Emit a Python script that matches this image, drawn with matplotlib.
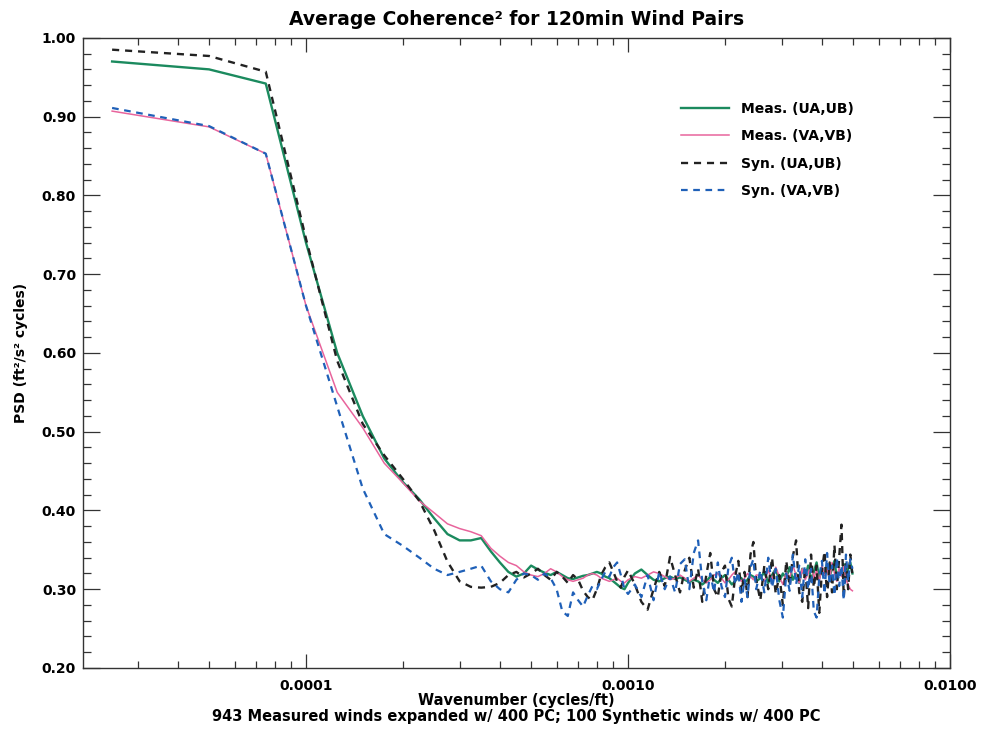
import matplotlib
matplotlib.use('Agg')
import matplotlib.pyplot as plt
from matplotlib.ticker import LogLocator, MultipleLocator, FuncFormatter, NullFormatter

plt.rcParams['font.family'] = 'DejaVu Sans'
plt.rcParams['font.weight'] = 'bold'

# harmonic number of each spectral estimate, fundamental 2.5e-5 cycles/ft
harmonic = list(range(1, 41)) + list(range(42, 101, 2)) + list(range(103, 200, 3))
wavenumber = [2.5e-5 * k for k in harmonic]

# Meas. (UA,UB)
meas_u = ([0.970, 0.960, 0.942, 0.740, 0.600, 0.520, 0.466, 0.436, 0.414, 0.390,
           0.370, 0.362, 0.362, 0.365, 0.348, 0.334, 0.322, 0.316, 0.320]
          + [0.330, 0.325, 0.321, 0.318, 0.322, 0.318, 0.314, 0.313, 0.315, 0.317,
             0.318, 0.320, 0.322, 0.320, 0.316, 0.314, 0.310, 0.306, 0.302, 0.300, 0.308]
          + [0.320, 0.325, 0.318, 0.312, 0.310, 0.314, 0.316, 0.313, 0.315, 0.312,
             0.309, 0.312, 0.310, 0.306, 0.310, 0.316, 0.312, 0.308, 0.314, 0.318,
             0.312, 0.306, 0.310, 0.316, 0.314, 0.308, 0.312, 0.318, 0.316, 0.310]
          + [0.314, 0.322, 0.308, 0.318, 0.326, 0.310, 0.320, 0.314, 0.328, 0.312,
             0.320, 0.308, 0.326, 0.316, 0.330, 0.312, 0.322, 0.334, 0.314, 0.326,
             0.318, 0.332, 0.316, 0.326, 0.336, 0.314, 0.324, 0.318, 0.332, 0.312,
             0.326, 0.334, 0.320])

# Meas. (VA,VB)
meas_v = ([0.907, 0.887, 0.853, 0.660, 0.550, 0.505, 0.460, 0.435, 0.412, 0.397,
           0.383, 0.377, 0.373, 0.368, 0.352, 0.342, 0.334, 0.330, 0.322]
          + [0.318, 0.316, 0.320, 0.326, 0.322, 0.316, 0.312, 0.310, 0.312, 0.314,
             0.318, 0.320, 0.318, 0.314, 0.312, 0.310, 0.312, 0.314, 0.310, 0.308, 0.312]
          + [0.316, 0.314, 0.318, 0.322, 0.320, 0.316, 0.312, 0.314, 0.318, 0.314,
             0.310, 0.314, 0.318, 0.312, 0.308, 0.312, 0.318, 0.320, 0.314, 0.308,
             0.312, 0.318, 0.322, 0.316, 0.310, 0.314, 0.320, 0.316, 0.312, 0.318]
          + [0.318, 0.310, 0.324, 0.312, 0.328, 0.316, 0.306, 0.322, 0.314, 0.330,
             0.318, 0.308, 0.326, 0.312, 0.320, 0.332, 0.314, 0.324, 0.310, 0.330,
             0.318, 0.326, 0.312, 0.334, 0.320, 0.310, 0.328, 0.316, 0.330, 0.312,
             0.306, 0.300, 0.298])

# Syn. (UA,UB)
syn_u = ([0.985, 0.977, 0.957, 0.745, 0.590, 0.510, 0.470, 0.440, 0.412, 0.375,
          0.335, 0.310, 0.303, 0.302, 0.303, 0.308, 0.318, 0.322, 0.315]
         + [0.320, 0.326, 0.318, 0.312, 0.322, 0.316, 0.308, 0.318, 0.312, 0.298,
            0.290, 0.286, 0.300, 0.318, 0.328, 0.334, 0.322, 0.310, 0.302, 0.316, 0.324]
         + [0.306, 0.284, 0.274, 0.300, 0.322, 0.304, 0.341, 0.318, 0.296, 0.324,
            0.340, 0.302, 0.326, 0.284, 0.318, 0.346, 0.300, 0.290, 0.322, 0.330,
            0.288, 0.278, 0.316, 0.336, 0.296, 0.322, 0.290, 0.344, 0.360, 0.312]
         + [0.286, 0.330, 0.300, 0.340, 0.294, 0.318, 0.280, 0.336, 0.304, 0.342,
            0.362, 0.296, 0.284, 0.328, 0.276, 0.344, 0.302, 0.330, 0.270, 0.324,
            0.348, 0.290, 0.334, 0.296, 0.356, 0.300, 0.340, 0.382, 0.290, 0.332,
            0.300, 0.344, 0.318])

# Syn. (VA,VB)
syn_v = ([0.911, 0.888, 0.853, 0.660, 0.532, 0.428, 0.370, 0.355, 0.340, 0.326,
          0.318, 0.322, 0.326, 0.330, 0.310, 0.300, 0.296, 0.312, 0.320]
         + [0.318, 0.312, 0.320, 0.314, 0.300, 0.272, 0.266, 0.296, 0.286, 0.278,
            0.292, 0.304, 0.300, 0.312, 0.322, 0.316, 0.328, 0.334, 0.318, 0.300, 0.294]
         + [0.306, 0.290, 0.318, 0.286, 0.322, 0.300, 0.316, 0.296, 0.332, 0.338,
            0.300, 0.346, 0.362, 0.310, 0.286, 0.320, 0.296, 0.334, 0.304, 0.290,
            0.328, 0.340, 0.306, 0.322, 0.284, 0.312, 0.290, 0.328, 0.338, 0.300]
         + [0.324, 0.296, 0.340, 0.302, 0.326, 0.286, 0.264, 0.320, 0.298, 0.344,
            0.306, 0.330, 0.290, 0.338, 0.300, 0.326, 0.272, 0.264, 0.316, 0.336,
            0.294, 0.346, 0.306, 0.330, 0.292, 0.340, 0.304, 0.330, 0.286, 0.344,
            0.310, 0.338, 0.326])

fig = plt.figure(figsize=(9.82, 7.31), dpi=100)
ax = fig.add_axes([0.0845, 0.0862, 0.883, 0.862])

ax.plot(wavenumber, meas_u, color='#1b8a5e', lw=1.7, label='Meas. (UA,UB)')
ax.plot(wavenumber, meas_v, color='#e8649c', lw=1.1, label='Meas. (VA,VB)')
ax.plot(wavenumber, syn_u, color='#222222', lw=1.7, ls=(0, (3, 2.5)), label='Syn. (UA,UB)')
ax.plot(wavenumber, syn_v, color='#1f60b8', lw=1.6, ls=(0, (3, 2.5)), label='Syn. (VA,VB)')

ax.set_xscale('log')
ax.set_xlim(2.03e-5, 1e-2)
ax.set_ylim(0.2, 1.0)

ax.xaxis.set_major_locator(LogLocator(base=10, subs=(1.0,)))
ax.xaxis.set_minor_locator(LogLocator(base=10, subs=range(2, 10)))
ax.xaxis.set_major_formatter(FuncFormatter(lambda v, p: f'{v:.4f}'))
ax.xaxis.set_minor_formatter(NullFormatter())
ax.yaxis.set_major_locator(MultipleLocator(0.1))
ax.yaxis.set_minor_locator(MultipleLocator(0.02))
ax.yaxis.set_major_formatter(FuncFormatter(lambda v, p: f'{v:.2f}'))

ax.tick_params(which='both', direction='in', top=True, right=True, color='#333333',
               labelsize=10, width=0.9)
ax.tick_params(axis='x', which='major', length=10, pad=8)
ax.tick_params(axis='x', which='minor', length=5)
ax.tick_params(axis='y', which='major', length=12, pad=5)
ax.tick_params(axis='y', which='minor', length=6)
for lab in ax.get_xticklabels() + ax.get_yticklabels():
    lab.set_fontweight('bold')
for sp in ax.spines.values():
    sp.set_color('#333333')
    sp.set_linewidth(1.0)

ax.set_title('Average Coherence² for 120min Wind Pairs', fontsize=13.5, fontweight='bold', pad=9)
ax.set_xlabel('Wavenumber (cycles/ft)\n943 Measured winds expanded w/ 400 PC; 100 Synthetic winds w/ 400 PC',
              fontsize=10.5, fontweight='bold', linespacing=1.1, labelpad=0)
ax.set_ylabel('PSD (ft²/s² cycles)', fontsize=10, fontweight='bold', labelpad=10)

ax.legend(loc='upper left', bbox_to_anchor=(0.69, 0.898), frameon=False,
          handlelength=3.4, handletextpad=0.9, labelspacing=0.95,
          prop={'weight': 'bold', 'size': 10}, borderaxespad=0, borderpad=0)

fig.savefig('out.png', dpi=100)
